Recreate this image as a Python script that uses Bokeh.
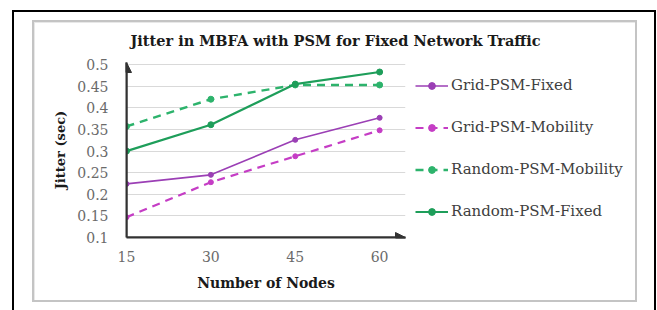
from bokeh.plotting import figure
from bokeh.models import (FixedTicker, Legend, LegendItem, Arrow, NormalHead, Range1d)
from bokeh.embed import file_html
from bokeh.resources import INLINE

# ---- data ----
nodes = [15, 30, 45, 60]
grid_psm_fixed = [0.224, 0.245, 0.326, 0.377]
grid_psm_mobility = [0.147, 0.228, 0.288, 0.348]
random_psm_mobility = [0.357, 0.420, 0.453, 0.453]
random_psm_fixed = [0.300, 0.361, 0.455, 0.483]
y_ticks = [0.1, 0.15, 0.2, 0.25, 0.3, 0.35, 0.4, 0.45, 0.5]
y_tick_labels = ["0.1", "0.15", "0.2", "0.25", "0.3", "0.35", "0.4", "0.45", "0.5"]
x_ticks = [15, 30, 45, 60]

title_text = "Jitter in MBFA with PSM for Fixed Network Traffic"
x_title = "Number of Nodes"
y_title = "Jitter (sec)"

SERIF = "DejaVu Serif"

x_range = Range1d(15, 64.6)
y_range = Range1d(0.1, 0.505)

p = figure(frame_width=279, frame_height=175,
           min_border_left=126, min_border_right=252,
           min_border_top=62, min_border_bottom=73,
           x_range=x_range, y_range=y_range,
           output_backend="svg", toolbar_location=None)
p.outline_line_color = None
p.border_fill_color = None
p.background_fill_color = None


def bar(color, x, y, w, h):
    return (f"linear-gradient({color},{color}) {x}px {y}px / {w}px {h}px no-repeat")


# picture frames (outer black, inner grey) painted behind the transparent canvas
p.styles = {
    "background": ", ".join([
        bar("#000000", 12, 10, 2, 300),
        bar("#000000", 12, 10, 644, 2),
        bar("#000000", 654, 10, 2, 300),
        bar("#c4c4c4", 32, 20, 2, 282),
        bar("#c4c4c4", 32, 20, 605, 2),
        bar("#c4c4c4", 635, 20, 2, 282),
        bar("#c4c4c4", 32, 300, 605, 2),
        bar("#e8e8e8", 34, 22, 1, 278),
        bar("#e8e8e8", 34, 22, 601, 1),
        "#ffffff",
    ])
}

# title
p.title.text = title_text
p.title.align = "left"
p.title.offset = 4
p.title.standoff = 27
p.title.text_font = SERIF
p.title.text_font_style = "bold"
p.title.text_font_size = "14.5px"
p.title.text_color = "#1a1a1a"

# axes
for ax in (p.xaxis[0], p.yaxis[0]):
    ax.axis_line_color = "#333333"
    ax.axis_line_width = 2
    ax.major_tick_line_color = None
    ax.minor_tick_line_color = None
    ax.major_label_text_font = SERIF
    ax.major_label_text_font_size = "14px"
    ax.major_label_text_color = "#6a6a6a"
    ax.axis_label_text_font = SERIF
    ax.axis_label_text_font_style = "bold"
    ax.axis_label_text_font_size = "14px"
    ax.axis_label_text_color = "#1a1a1a"

p.xaxis.ticker = FixedTicker(ticks=x_ticks)
p.xaxis.major_label_standoff = 7
p.xaxis.axis_label = x_title
p.xaxis.axis_label_standoff = 10

p.yaxis.ticker = FixedTicker(ticks=y_ticks)
p.yaxis.major_label_overrides = {t: l for t, l in zip(y_ticks, y_tick_labels)}
p.yaxis.major_label_standoff = 12
p.yaxis.axis_label = y_title
p.yaxis.axis_label_text_font_size = "13px"
p.yaxis.axis_label_standoff = 6

p.xgrid.grid_line_color = None
p.ygrid.ticker = FixedTicker(ticks=y_ticks)
p.ygrid.grid_line_color = "#d9d9d9"
p.ygrid.grid_line_width = 1

# axis arrows
p.add_layout(Arrow(end=NormalHead(size=10, fill_color="#333333", line_color="#333333"),
                   x_start=x_range.start, y_start=y_range.start,
                   x_end=x_range.end, y_end=y_range.start,
                   line_color="#333333", line_width=2))
p.add_layout(Arrow(end=NormalHead(size=10, fill_color="#333333", line_color="#333333"),
                   x_start=x_range.start, y_start=y_range.start,
                   x_end=x_range.start, y_end=y_range.end,
                   line_color="#333333", line_width=2))

series = [
    ("Grid-PSM-Fixed", grid_psm_fixed, "#9B3FB5", "solid", 1.6, 5),
    ("Grid-PSM-Mobility", grid_psm_mobility, "#C53DC5", "8 6", 2.2, 5),
    ("Random-PSM-Mobility", random_psm_mobility, "#2DB36C", "8 6", 2.4, 6),
    ("Random-PSM-Fixed", random_psm_fixed, "#1E9E5A", "solid", 2.2, 6),
]

items = []
for name, vals, color, dash, lw, ms in series:
    r1 = p.line(nodes, vals, line_color=color, line_width=lw, line_dash=dash)
    r2 = p.scatter(nodes, vals, size=ms, fill_color=color, line_color=color)
    items.append(LegendItem(label=name, renderers=[r1, r2]))

legend = Legend(items=items, location=(10, 17), orientation="vertical")
legend.border_line_color = None
legend.background_fill_alpha = 0
legend.margin = 0
legend.padding = 0
legend.spacing = 24
legend.glyph_width = 33
legend.glyph_height = 17
legend.label_height = 17
legend.label_standoff = 3
legend.label_text_font = SERIF
legend.label_text_font_size = "15px"
legend.label_text_color = "#404040"
p.add_layout(legend, "right")

open("out.html", "w").write(file_html(p, INLINE))
